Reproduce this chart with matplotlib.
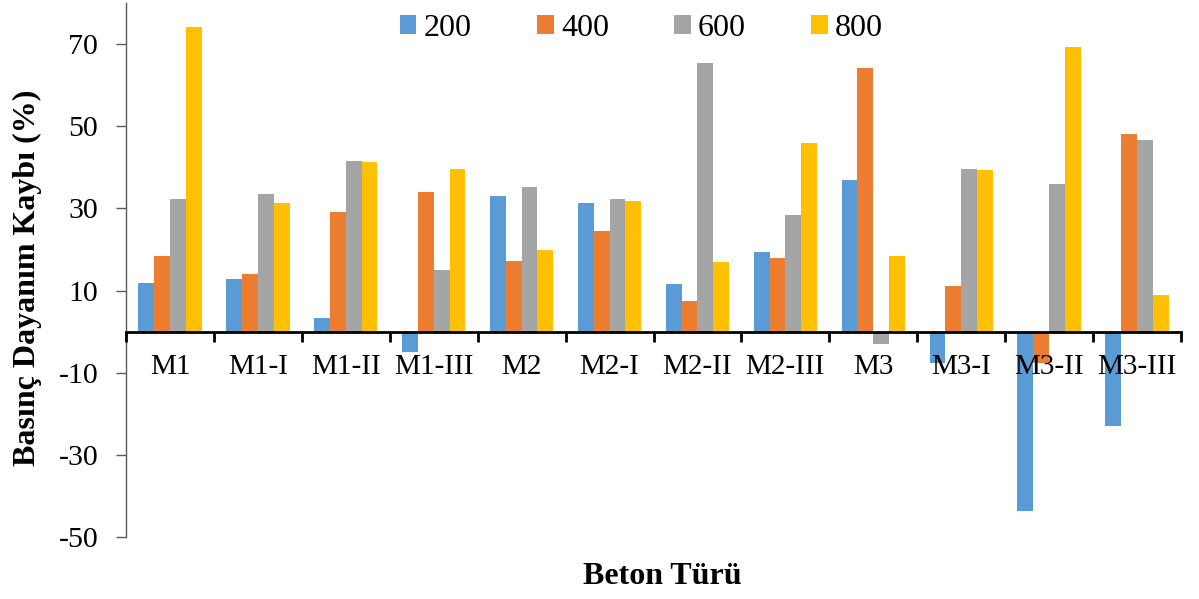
import matplotlib
matplotlib.use("Agg")
import matplotlib.pyplot as plt
import numpy as np

plt.rcParams['font.family'] = ['Liberation Serif', 'DejaVu Serif']
plt.rcParams['axes.unicode_minus'] = False

categories = ["M1", "M1-I", "M1-II", "M1-III", "M2", "M2-I", "M2-II", "M2-III",
              "M3", "M3-I", "M3-II", "M3-III"]
series_names = ["200", "400", "600", "800"]
loss_200 = [11.9, 12.7, 3.4, -5.0, 33.1, 31.4, 11.6, 19.5, 36.8, -7.6, -43.7, -22.9]
loss_400 = [18.3, 14.0, 29.0, 33.9, 17.2, 24.4, 7.5, 17.8, 64.2, 11.2, -7.6, 48.0]
loss_600 = [32.2, 33.4, 41.6, 15.0, 35.1, 32.3, 65.4, 28.4, -3.0, 39.7, 36.0, 46.7]
loss_800 = [74.1, 31.4, 41.4, 39.6, 19.9, 31.8, 17.0, 45.9, 18.3, 39.4, 69.2, 9.0]
yticks = [-50, -30, -10, 10, 30, 50, 70]

colors = ["#5B9BD5", "#ED7D31", "#A5A5A5", "#FFC000"]
series = [loss_200, loss_400, loss_600, loss_800]

fig = plt.figure(figsize=(11.99, 5.99), dpi=100)
ax = fig.add_axes([126 / 1199, 1 - 537 / 599, (1181 - 126) / 1199, 534 / 599])
ax.set_axisbelow(False)

x = np.arange(len(categories))
width = 0.18
for i, (vals, col, name) in enumerate(zip(series, colors, series_names)):
    ax.bar(x + (i - 1.5) * width, vals, width, color=col, label=name, zorder=1)

ax.set_xlim(-0.5, len(categories) - 0.5)
ax.set_ylim(-50, 80)
ax.set_yticks(yticks)
ax.tick_params(axis='y', labelsize=21.5, length=7, width=1, color='#595959', pad=13)

# category axis sits on zero, with boundary ticks hanging below it
ax.spines['bottom'].set_position(('data', 0))
ax.spines['bottom'].set_linewidth(2)
ax.spines['bottom'].set_color('black')
ax.spines['left'].set_color('#595959')
ax.spines['left'].set_linewidth(1)
ax.spines['top'].set_visible(False)
ax.spines['right'].set_visible(False)

ax.set_xticks(np.arange(-0.5, len(categories)), minor=False)
ax.set_xticklabels([])
ax.tick_params(axis='x', which='major', length=7, width=2, color='black', direction='out')
ax.set_xticks(x, minor=True)
ax.set_xticklabels(categories, minor=True)
ax.tick_params(axis='x', which='minor', length=0, labelsize=21, pad=16)

leg = ax.legend(loc='center', bbox_to_anchor=(0.4885, 0.952), ncol=4, frameon=False,
                fontsize=23, handlelength=0.53, handleheight=0.53,
                handletextpad=0.23, columnspacing=2.03, borderpad=0)

fig.text(27 / 1199, 1 - 278 / 599, "Basınç Dayanım Kaybı (%)", rotation=90,
         ha='center', va='center', fontsize=23, fontweight='bold')
fig.text(662 / 1199, 1 - 576 / 599, "Beton Türü", ha='center', va='center',
         fontsize=23, fontweight='bold')

fig.savefig("out.png", dpi=100)
